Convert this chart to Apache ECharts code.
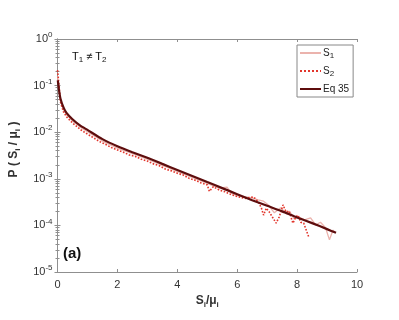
<!DOCTYPE html>
<html>
<head>
<meta charset="utf-8">
<script src="https://cdn.jsdelivr.net/npm/echarts@6/dist/echarts.min.js"></script>
<style>
  html, body { margin: 0; padding: 0; background: #fff; }
  #main { width: 399px; height: 320px; }
</style>
</head>
<body>
<div id="main"></div>
<script>
// S_i/mu_i and P values
var s1X = [0.0, 0.1, 0.2, 0.3, 0.5, 0.8, 1.0, 1.5, 2.0, 2.5, 3.0, 3.5, 4.0, 4.5, 5.0, 5.4, 5.66, 5.8, 6.0, 6.2, 6.48, 6.7, 6.88, 7.04, 7.24, 7.45, 7.6, 7.75, 7.9, 8.06, 8.25, 8.45, 8.62, 8.78, 8.95, 9.08, 9.2, 9.25];
var s1Y = [0.158, 0.049, 0.0309, 0.0240, 0.0174, 0.0123, 0.0102, 0.00646, 0.00457, 0.00347, 0.00263, 0.00195, 0.00145, 0.00107, 0.000794, 0.000631, 0.000661, 0.000490, 0.000437, 0.000417, 0.000389, 0.000355, 0.000331, 0.000275, 0.000186, 0.000240, 0.000191, 0.000200, 0.000138, 0.000151, 0.000132, 0.000145, 0.000102, 0.000117, 0.0000891, 0.0000490, 0.0000794, 0.0000724];

var s2X = [0.0, 0.03, 0.1, 0.2, 0.3, 0.5, 0.8, 1.0, 1.2, 1.4, 1.6, 1.8, 2.0, 2.2, 2.4, 2.6, 2.8, 3.0, 3.2, 3.4, 3.6, 3.8, 4.0, 4.2, 4.4, 4.6, 4.8, 5.0, 5.07, 5.2, 5.4, 5.6, 5.8, 6.0, 6.25, 6.55, 6.71, 6.81, 6.88, 6.97, 7.07, 7.3, 7.4, 7.53, 7.63, 7.73, 7.86, 7.96, 8.03, 8.12, 8.22, 8.39];
var s2Y = [0.214, 0.141, 0.0437, 0.0275, 0.0214, 0.0158, 0.0110, 0.00912, 0.00759, 0.00631, 0.00550, 0.00468, 0.00417, 0.00372, 0.00324, 0.00302, 0.00263, 0.00240, 0.00209, 0.00191, 0.00162, 0.00148, 0.00132, 0.00120, 0.00102, 0.000933, 0.000813, 0.000741, 0.000537, 0.000676, 0.000575, 0.000525, 0.000457, 0.000417, 0.000380, 0.000407, 0.000316, 0.000234, 0.000166, 0.000234, 0.000195, 0.000112, 0.000151, 0.000275, 0.000195, 0.000204, 0.000112, 0.000151, 0.000166, 0.000117, 0.000112, 0.0000562];

var eqX = [0.01, 0.05, 0.1, 0.2, 0.3, 0.5, 0.75, 1.0, 1.5, 2.0, 2.5, 3.0, 3.5, 4.0, 4.5, 5.0, 5.5, 6.0, 6.5, 7.0, 7.5, 8.0, 8.5, 9.0, 9.3];
var eqY = [0.13, 0.08, 0.052, 0.034, 0.026, 0.019, 0.014, 0.0112, 0.0071, 0.0050, 0.00372, 0.00282, 0.00209, 0.00155, 0.00115, 0.000851, 0.000631, 0.000468, 0.000347, 0.000263, 0.000200, 0.000148, 0.000112, 0.0000832, 0.0000692];

var seriesNames = ['S1', 'S2', 'Eq 35'];

function pairs(xs, ys) {
    var out = [];
    for (var i = 0; i < xs.length; i++) out.push([xs[i], ys[i]]);
    return out;
}

var axisGray = '#8f8f8f';
var textCol = '#333';
var font = 'Liberation Sans, Arial, sans-serif';

var myChart = echarts.init(document.getElementById('main'));
var option = {
    animation: false,
    textStyle: { fontFamily: font },
    grid: { left: 53, right: 42, top: 39, bottom: 48 },
    legend: {
        data: seriesNames,
        orient: 'vertical',
        left: 297, top: 45,
        itemWidth: 21, itemHeight: 10, itemGap: 6,
        padding: [3, 4, 3, 2],
        borderColor: '#888', borderWidth: 1,
        itemStyle: { opacity: 0 },
        formatter: function (n) {
            if (n === 'S1') return 'S{sub|1}';
            if (n === 'S2') return 'S{sub|2}';
            return n;
        },
        textStyle: {
            fontSize: 10, color: '#222', padding: [0, 0, 0, -3],
            rich: { sub: { fontSize: 8, padding: [6, 0, 0, 0], color: '#222' } }
        }
    },
    xAxis: [{
        type: 'value', min: 0, max: 10, interval: 2,
        name: 'S{sub|i}/μ{sub|i}', nameLocation: 'middle', nameGap: 21,
        nameTextStyle: {
            fontSize: 12, fontWeight: 'bold', color: textCol,
            rich: { sub: { fontSize: 8, fontWeight: 'bold', padding: [7, 0, 0, 0], color: textCol } }
        },
        axisLine: { lineStyle: { color: axisGray } },
        axisTick: { inside: true, length: 3, lineStyle: { color: axisGray } },
        axisLabel: { fontSize: 11, color: textCol, margin: 7 },
        splitLine: { show: false }
    }, {
        type: 'value', min: 0, max: 10, interval: 2, position: 'top',
        axisLine: { lineStyle: { color: axisGray } },
        axisTick: { inside: true, length: 3, lineStyle: { color: axisGray } },
        axisLabel: { show: false },
        splitLine: { show: false }
    }],
    yAxis: [{
        type: 'log', logBase: 10, min: 1e-5, max: 1,
        name: 'P ( S{sub|i} / μ{sub|i} )', nameLocation: 'middle', nameGap: 36,
        nameTextStyle: {
            fontSize: 12, fontWeight: 'bold', color: textCol, padding: [0, 0, 0, 12],
            rich: { sub: { fontSize: 8, fontWeight: 'bold', padding: [7, 0, 0, 0], color: textCol } }
        },
        axisLine: { show: true, lineStyle: { color: axisGray } },
        axisTick: { show: true, inside: true, length: 3, lineStyle: { color: axisGray } },
        minorTick: { show: true, splitNumber: 9, length: 2, lineStyle: { color: axisGray } },
        axisLabel: {
            margin: 5, color: textCol,
            formatter: function (v) {
                return '{b|10}{e|' + Math.round(Math.log10(v)) + '}';
            },
            rich: {
                b: { fontSize: 11, color: textCol },
                e: { fontSize: 8, color: textCol, padding: [0, 0, 8, 0] }
            }
        },
        splitLine: { show: false }
    }, {
        type: 'log', logBase: 10, min: 1e-5, max: 1, position: 'right',
        axisLine: { show: true, lineStyle: { color: axisGray } },
        axisTick: { show: true, inside: true, length: 3, lineStyle: { color: axisGray } },
        minorTick: { show: true, splitNumber: 9, length: 2, lineStyle: { color: axisGray } },
        axisLabel: { show: false },
        splitLine: { show: false }
    }],
    graphic: [{
        type: 'text', left: 72, top: 51,
        style: {
            text: 'T{sub|1} ≠ T{sub|2}',
            fontSize: 11, fill: '#111', fontFamily: font,
            rich: { sub: { fontSize: 8, padding: [6, 0, 0, 0], fill: '#111' } }
        }
    }, {
        type: 'text', left: 63, top: 246,
        style: { text: '(a)', fontSize: 15, fontWeight: 'bold', fill: '#111', fontFamily: font }
    }],
    series: [{
        name: 'S1', type: 'line', showSymbol: false, symbol: 'none',
        data: pairs(s1X, s1Y),
        lineStyle: { color: '#ebb3ad', width: 1.3 },
        itemStyle: { color: '#ebb3ad' }, z: 2
    }, {
        name: 'S2', type: 'line', showSymbol: false, symbol: 'none',
        data: pairs(s2X, s2Y),
        lineStyle: { color: '#e2352b', width: 1.6, type: 'dotted' },
        itemStyle: { color: '#e2352b' }, z: 3
    }, {
        name: 'Eq 35', type: 'line', showSymbol: false, symbol: 'none',
        data: pairs(eqX, eqY), smooth: 0.2,
        lineStyle: { color: '#5e0d0d', width: 2.2 },
        itemStyle: { color: '#5e0d0d' }, z: 4
    }]
};
myChart.setOption(option);
</script>
</body>
</html>
